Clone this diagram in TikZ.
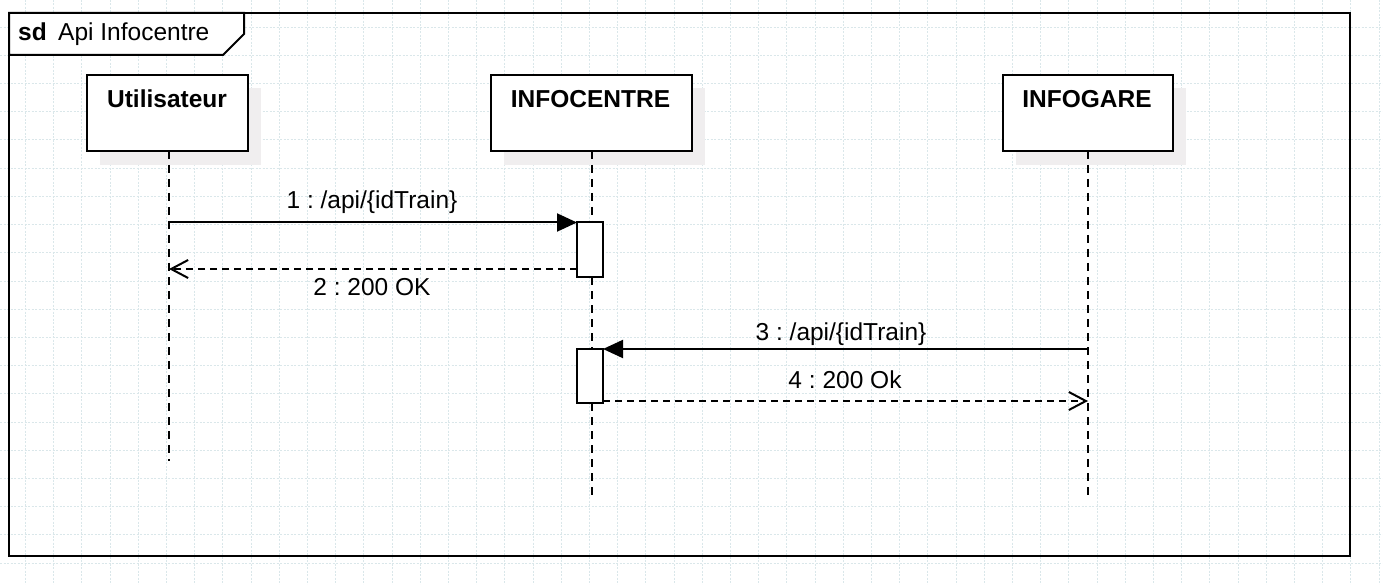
\documentclass[tikz,border=0pt]{standalone}
\usepackage{fontspec}
\setmainfont{Liberation Sans}
\usetikzlibrary{arrows.meta}
\definecolor{gridc}{RGB}{218,231,234}
\definecolor{shadowc}{RGB}{240,238,239}
\frenchspacing
\tikzset{
  lbl/.style={font=\fontsize{24.5}{29}\selectfont, inner sep=0pt, anchor=base},
  headlbl/.style={font=\fontsize{24.5}{29}\selectfont\bfseries, inner sep=0pt, anchor=base},
  headbox/.style={draw=black, line width=2pt, fill=white, inner sep=0pt, outer sep=0pt},
  actbox/.style={draw=black, line width=2pt, fill=white, inner sep=0pt, outer sep=0pt, minimum width=26pt, minimum height=54pt},
  lifeline/.style={line width=2pt, dash pattern=on 8pt off 6pt},
  syncmsg/.style={line width=2pt, -{Triangle[length=20pt,width=18pt]}},
  replymsg/.style={line width=2pt, dash pattern=on 7pt off 5pt, -{Straight Barb[length=17pt,width=18pt,line width=2pt]}},
  gridline/.style={gridc, line width=1pt, dash pattern=on 2pt off 1.5pt},
}
\begin{document}
\begin{tikzpicture}[x=1pt,y=-1pt]
\useasboundingbox (0,0) rectangle (1383,585);
\fill[white] (0,0) rectangle (1383,585);
% background grid
\foreach \i in {-1,...,48} { \draw[gridline] ({25.5+28.2*\i},0) -- ({25.5+28.2*\i},585); }
\foreach \j in {0,...,21} { \draw[gridline] (0,{-1+28.2*\j}) -- (1383,{-1+28.2*\j}); }
% frame
\draw[line width=2.5pt] (9,13) rectangle (1350,556);
\draw[line width=2pt, fill=white] (9,13) -- (244,13) -- (244,34) -- (223,55) -- (9,55) -- cycle;
\node[headlbl] (sd) at (32.5,41) {sd};
\node[lbl, anchor=base west] (title) at (58,41) {Api Infocentre};
% shadows
\fill[shadowc] (100,88) rectangle (261,165);
\fill[shadowc] (504,88) rectangle (705,165);
\fill[shadowc] (1016,88) rectangle (1186,165);
% heads
\node[headbox, minimum width=161pt, minimum height=76pt] (u) at (167.5,113) {};
\node[headbox, minimum width=201pt, minimum height=76pt] (c) at (591,113) {};
\node[headbox, minimum width=170pt, minimum height=76pt] (g) at (1087.5,113) {};
\node[headlbl] (ut) at (167,108) {Utilisateur};
\node[headlbl] (ct) at (590.5,108) {INFOCENTRE};
\node[headlbl] (gt) at (1087,108) {INFOGARE};
% lifeline ends
\coordinate (uend) at (169,461);
\coordinate (cend) at (592,497);
\coordinate (gend) at (1088,497);
\draw[lifeline] (u.south -| uend) -- (uend);
\draw[lifeline] (c.south -| cend) -- (cend);
\draw[lifeline] (g.south -| gend) -- (gend);
% activations
\node[actbox] (a1) at (590,249.5) {};
\node[actbox] (a2) at (590,376) {};
% message points
\coordinate (m1s) at (169,222.5);
\coordinate (m2e) at (169,269);
\coordinate (m3s) at (1088,349);
\coordinate (m4e) at (1088,401);
\draw[syncmsg] (m1s) -- (a1.north west);
\draw[replymsg] (a1.west |- m2e) -- (m2e);
\draw[syncmsg] (m3s) -- (a2.north east);
\draw[replymsg] (a2.east |- m4e) -- (m4e);
% labels
\node[lbl] (l1) at (372,209) {1 : /api/\{idTrain\}};
\node[lbl] (l2) at (372,295) {2 : 200 OK};
\node[lbl] (l3) at (841,340.5) {3 : /api/\{idTrain\}};
\node[lbl] (l4) at (845,388) {4 : 200 Ok};
\end{tikzpicture}
\end{document}
